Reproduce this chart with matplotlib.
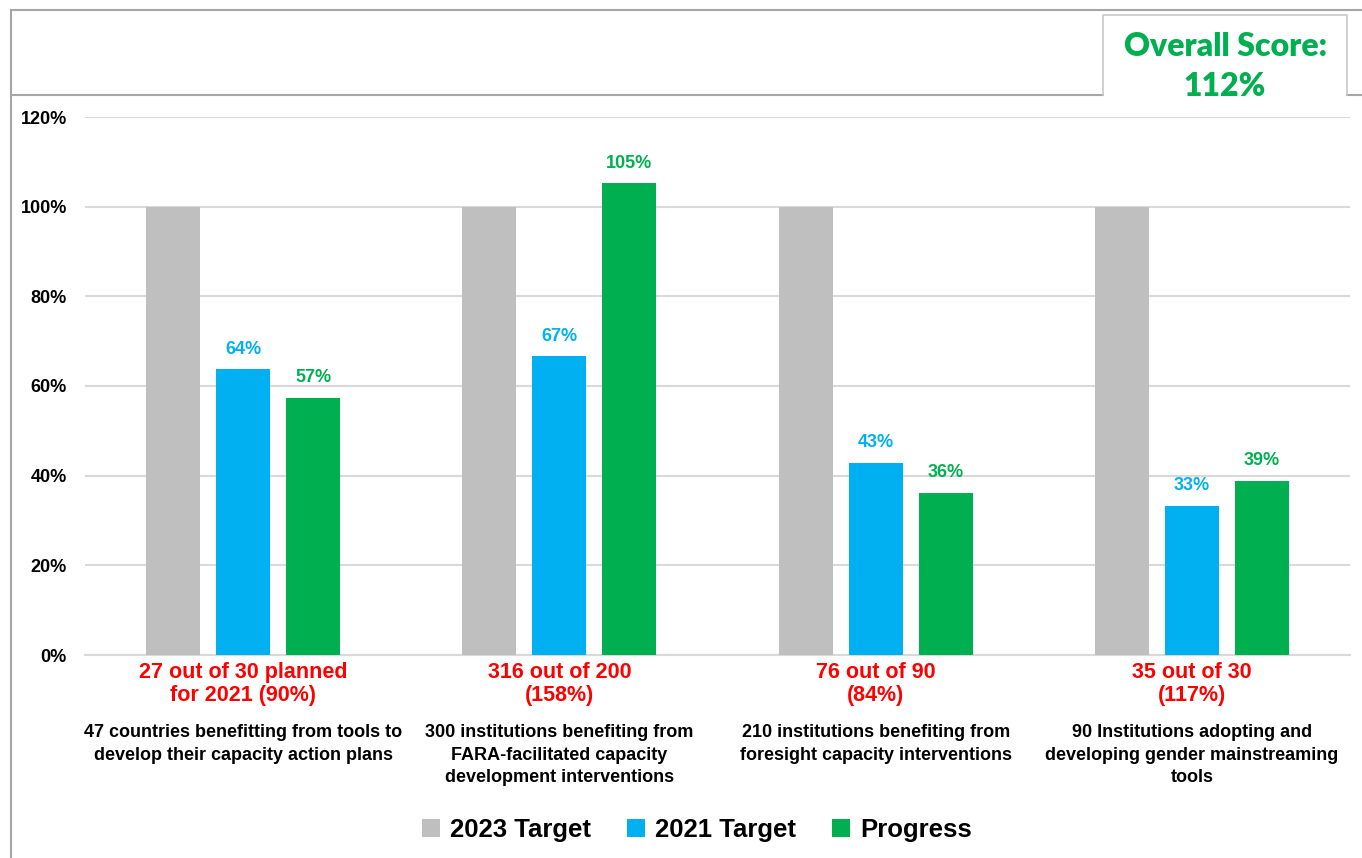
import matplotlib
matplotlib.use("Agg")
import matplotlib.pyplot as plt
from matplotlib.lines import Line2D
import numpy as np
from matplotlib import font_manager

names = {f.name for f in font_manager.fontManager.ttflist}
NARROW = ['Liberation Sans Narrow', 'Liberation Sans', 'DejaVu Sans'] if 'Liberation Sans Narrow' in names else ['Liberation Sans', 'DejaVu Sans']

# ---- data ----
series_names = ["2023 Target", "2021 Target", "Progress"]
target_2023 = [100, 100, 100, 100]
target_2021 = [63.8, 66.7, 42.9, 33.3]
progress = [57.4, 105.3, 36.2, 38.9]
red_labels = ["27 out of 30 planned\nfor 2021 (90%)", "316 out of 200\n(158%)",
              "76 out of 90\n(84%)", "35 out of 30\n(117%)"]
cat_labels = ["47 countries benefitting from tools to\ndevelop their capacity action plans",
              "300 institutions benefiting from\nFARA-facilitated capacity\ndevelopment interventions",
              "210 institutions benefiting from\nforesight capacity interventions",
              "90 Institutions adopting and\ndeveloping gender mainstreaming\ntools"]
y_ticks = [0, 20, 40, 60, 80, 100, 120]
overall_score = "112%"

GRAY = "#BFBFBF"
BLUE = "#00B0F0"
GREEN = "#00B050"
RED = "#FF0000"

W, H = 1362, 858
fig = plt.figure(figsize=(W / 100, H / 100), dpi=100)

def fx(px):
    return px / W

def fy(py):
    return 1 - py / H

# frame lines
fig.add_artist(Line2D([fx(11), fx(11)], [fy(10), fy(858)], color="#A6A6A6", lw=1.5))
fig.add_artist(Line2D([fx(11), fx(1362)], [fy(10), fy(10)], color="#A6A6A6", lw=1.5))
fig.add_artist(Line2D([fx(11), fx(1103)], [fy(95), fy(95)], color="#A6A6A6", lw=1.5))
fig.add_artist(Line2D([fx(1347), fx(1362)], [fy(95), fy(95)], color="#A6A6A6", lw=1.5))
# score box (open at bottom)
fig.add_artist(Line2D([fx(1103), fx(1103), fx(1347), fx(1347)],
                      [fy(95), fy(15), fy(15), fy(95)], color="#C8C8C8", lw=1.2))
fig.text(fx(1225), fy(46), "Overall Score:", color=GREEN, fontsize=23, fontweight="heavy",
         family=['Lato', 'DejaVu Sans'], ha="center", va="center", zorder=6)
fig.text(fx(1225), fy(87), overall_score, color=GREEN, fontsize=23, fontweight="heavy",
         family=['Lato', 'DejaVu Sans'], ha="center", va="center", zorder=6)

ax = fig.add_axes([fx(85), fy(655), fx(1350) - fx(85), fy(117) - fy(655)])
x = np.arange(len(target_2023))
step = 0.2215
bw = 0.171
ax.bar(x - step, target_2023, bw, color=GRAY, zorder=3, label=series_names[0])
ax.bar(x, target_2021, bw, color=BLUE, zorder=3, label=series_names[1])
ax.bar(x + step, progress, bw, color=GREEN, zorder=3, label=series_names[2])

for xi, v in zip(x, target_2021):
    ax.text(xi, v + 2.5, f"{round(v):d}%", color=BLUE, ha="center", va="bottom",
            fontsize=13, fontweight="bold", family=NARROW)
for xi, v in zip(x, progress):
    ax.text(xi + step, v + 2.5, f"{round(v):d}%", color=GREEN, ha="center", va="bottom",
            fontsize=13, fontweight="bold", family=NARROW)

ax.set_xlim(-0.5, 3.5)
ax.set_ylim(0, 120)
ax.set_yticks(y_ticks)
ax.set_yticklabels([f"{t}%" for t in y_ticks], fontsize=13, fontweight="bold", family=NARROW)
ax.tick_params(axis="y", length=0, pad=13)
ax.set_xticks([])
ax.grid(axis="y", color="#D9D9D9", lw=1.5, zorder=0)
for s in ["left", "right", "top"]:
    ax.spines[s].set_visible(False)
ax.spines["bottom"].set_color("#D9D9D9")
ax.spines["bottom"].set_linewidth(1.5)

for xi, rl, cl in zip(x, red_labels, cat_labels):
    ax.annotate(rl, xy=(xi, 0), xycoords=("data", "axes fraction"), xytext=(0, -5),
                textcoords="offset points", ha="center", va="top", color=RED,
                fontsize=15.5, fontweight="bold", family=['Liberation Sans', 'DejaVu Sans'],
                linespacing=1.1)
    ax.annotate(cl, xy=(xi, 0), xycoords=("data", "axes fraction"), xytext=(0, -50),
                textcoords="offset points", ha="center", va="top", color="black",
                fontsize=13, fontweight="bold", family=NARROW, linespacing=1.42)

fig.legend(loc="center", bbox_to_anchor=(fx(697), fy(830)), ncol=3, frameon=False,
           prop={'family': NARROW, 'weight': 'bold', 'size': 18.5},
           handlelength=0.7, handleheight=0.7, handletextpad=0.4, columnspacing=1.4)

fig.savefig("out.png", dpi=100, facecolor="white")
